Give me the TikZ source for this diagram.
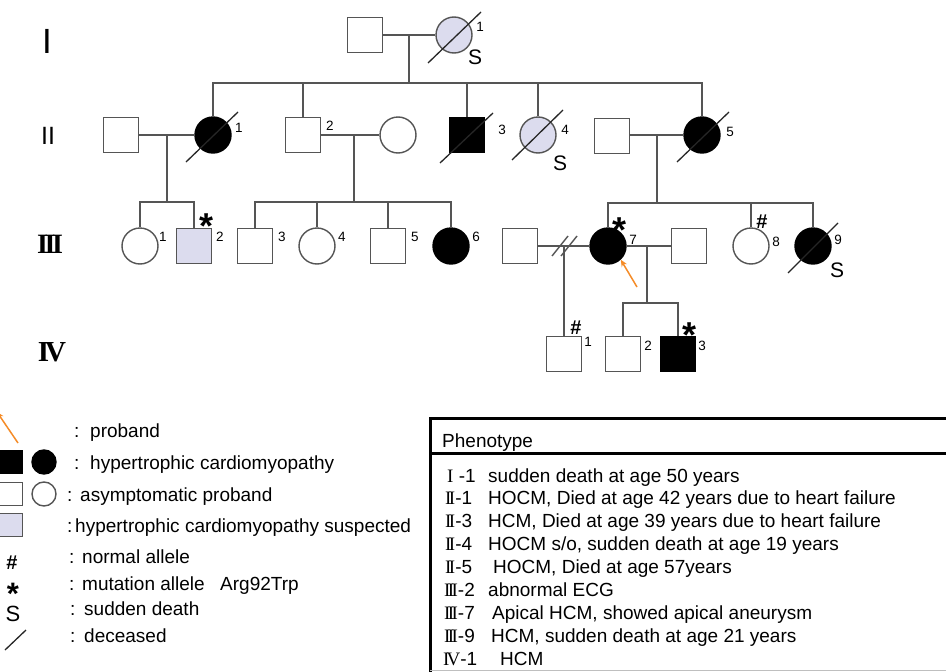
\documentclass[tikz,border=0pt]{standalone}
\usepackage{fontspec}
\setmainfont{Liberation Sans}
\newfontfamily\rmn{Liberation Serif}
\usetikzlibrary{arrows.meta,calc}
\definecolor{lc}{RGB}{85,85,85}
\definecolor{lav}{RGB}{220,220,238}
\definecolor{org}{RGB}{245,140,40}
\newcommand\astx{\raisebox{-0.575em}[0.16em][0.16em]{*}}
\newcommand\rI{{\rmn I}}
\newcommand\rII{{\rmn I\kern-2.6pt I}}
\newcommand\rIII{{\rmn I\kern-2.6pt I\kern-2.6pt I}}
\newcommand\rIV{{\rmn I\kern-3pt V}}
\tikzset{
  ln/.style={draw=lc, line width=1.4pt},
  pm/.style={rectangle, draw=lc, line width=1.4pt, minimum size=35pt, inner sep=0pt, fill=white},
  pf/.style={circle, draw=lc, line width=1.4pt, minimum size=36pt, inner sep=0pt, fill=white},
  aff/.style={fill=black, draw=black},
  sus/.style={fill=lav},
  slash/.style={draw=black!85, line width=1.3pt},
  num/.style={font=\fontsize{13.5}{14}\selectfont, inner sep=0pt},
  sdl/.style={font=\fontsize{21}{22}\selectfont, inner sep=0pt},
  ast/.style={font=\bfseries\fontsize{36}{36}\selectfont, inner sep=0pt},
  hsh/.style={font=\bfseries\fontsize{20}{20}\selectfont, inner sep=0pt},
  gen/.style={inner sep=0pt},
  txt/.style={font=\fontsize{19}{20}\selectfont, inner sep=0pt, anchor=base west},
  parr/.style={draw=org, line width=1.5pt, -{Stealth[length=7pt,width=6pt]}},
  lsq/.style={rectangle, draw=lc, line width=1.4pt, minimum size=23pt, inner sep=0pt},
  lci/.style={circle, draw=lc, line width=1.4pt, minimum size=24pt, inner sep=0pt},
  tline/.style={draw=black, line width=3pt}
}
\begin{document}
\begin{tikzpicture}[x=1pt,y=-1pt]
\useasboundingbox (0,0) rectangle (946,672);
\fill[white] (0,0) rectangle (946,672);

% ---------- generation labels ----------
\node[gen, font=\fontsize{35}{35}\selectfont] (gI) at (47,41) {I};
\node[gen, font=\fontsize{25}{25}\selectfont] (gII) at (48,136) {II};
\node[gen, font=\rmn\bfseries\fontsize{28}{28}\selectfont] (gIII) at (50,244) {I\kern-3.4pt I\kern-3.4pt I};
\node[gen, font=\rmn\bfseries\fontsize{29}{29}\selectfont] (gIV) at (52,352) {I\kern-4pt V};

% ---------- generation I ----------
\node[pm] (I0) at (365,35) {};
\node[pf, sus] (I1) at (454,35) {};

% ---------- generation II ----------
\node[pm] (IIa) at (121,135) {};
\node[pf, aff] (II1) at (213,135) {};
\node[pm] (II2) at (303,135) {};
\node[pf] (IIb) at (398,135) {};
\node[pm, aff] (II3) at (467,135) {};
\node[pf, sus] (II4) at (538,135) {};
\node[pm] (IIc) at (612,136) {};
\node[pf, aff] (II5) at (702,135) {};

% ---------- generation III ----------
\node[pf] (III1) at (140,246) {};
\node[pm, sus] (III2) at (194,246) {};
\node[pm] (III3) at (255,246) {};
\node[pf] (III4) at (317,246) {};
\node[pm] (III5) at (388,246) {};
\node[pf, aff] (III6) at (451,246) {};
\node[pm] (IIId) at (520,246) {};
\node[pf, aff] (III7) at (608,246) {};
\node[pm] (IIIe) at (689,246) {};
\node[pf] (III8) at (751,246) {};
\node[pf, aff] (III9) at (813,246) {};

% ---------- generation IV ----------
\node[pm] (IV1) at (564,354) {};
\node[pm] (IV2) at (623,354) {};
\node[pm, aff] (IV3) at (678,354) {};

% ---------- lines gen I ----------
\draw[ln] (I0.east) -- (I1.west);
\coordinate (mI) at (409,35);
\coordinate (sI) at (409,83);
\draw[ln] (mI) -- (sI);
\draw[ln] (II1.north) |- (sI) -| (II5.north);
\draw[ln] (II2.north) -- (II2.north |- sI);
\draw[ln] (II3.north) -- (II3.north |- sI);
\draw[ln] (II4.north) -- (II4.north |- sI);

% ---------- lines gen II ----------
\draw[ln] (IIa.east) -- (II1.west);
\coordinate (mIIa) at (167,135);
\coordinate (sIIa) at (167,202);
\draw[ln] (mIIa) -- (sIIa);
\draw[ln] (III1.north) |- (sIIa) -| (III2.north);

\draw[ln] (II2.east) -- (IIb.west);
\coordinate (mIIb) at (354,135);
\coordinate (sIIb) at (354,202);
\draw[ln] (mIIb) -- (sIIb);
\draw[ln] (III3.north) |- (sIIb) -| (III6.north);
\draw[ln] (III4.north) -- (III4.north |- sIIb);
\draw[ln] (III5.north) -- (III5.north |- sIIb);

\draw[ln] (IIc.east |- II5.west) -- (II5.west);
\coordinate (mIIc) at (657,135);
\coordinate (sIIc) at (657,203);
\draw[ln] (mIIc) -- (sIIc);
\draw[ln] (III7.north) |- (sIIc) -| (III9.north);
\draw[ln] (III8.north) -- (III8.north |- sIIc);

% ---------- lines gen III ----------
\draw[ln] (IIId.east) -- (III7.west);
\coordinate (mIIId) at (564,246);
\draw[ln] (mIIId) -- (IV1.north);
\coordinate (ds1a) at (552,256); \coordinate (ds1b) at (568,236);
\coordinate (ds2a) at (561,256); \coordinate (ds2b) at (577,236);
\draw[ln] (ds1a) -- (ds1b);
\draw[ln] (ds2a) -- (ds2b);

\draw[ln] (III7.east) -- (IIIe.west);
\coordinate (mIIIe) at (647,246);
\coordinate (sIIIe) at (647,303);
\draw[ln] (mIIIe) -- (sIIIe);
\draw[ln] (IV2.north) |- (sIIIe) -| (IV3.north);

% ---------- deceased slashes ----------
\draw[slash] ($(I1)+(-26,28)$) -- ($(I1)+(27,-23)$);
\draw[slash] ($(II1)+(-27,27)$) -- ($(II1)+(25,-23)$);
\draw[slash] ($(II3)+(-27,28)$) -- ($(II3)+(26,-22)$);
\draw[slash] ($(II4)+(-26,25)$) -- ($(II4)+(25,-25)$);
\draw[slash] ($(II5)+(-25,27)$) -- ($(II5)+(27,-23)$);
\draw[slash] ($(III9)+(-25,27)$) -- ($(III9)+(25,-23)$);

% ---------- proband arrow ----------
\coordinate (pa) at (637,287);
\draw[parr] (pa) -- (III7.-47);

% ---------- individual numbers ----------
\node[num] (nI1) at (480,27) {1};
\node[num] (nII1) at (239,128) {1};
\node[num] (nII2) at (330,126) {2};
\node[num] (nII3) at (502,130) {3};
\node[num] (nII4) at (565,130) {4};
\node[num] (nII5) at (730,132) {5};
\node[num] (nIII1) at (163,237) {1};
\node[num] (nIII2) at (220,237) {2};
\node[num] (nIII3) at (282,237) {3};
\node[num] (nIII4) at (342,237) {4};
\node[num] (nIII5) at (415,237) {5};
\node[num] (nIII6) at (476,237) {6};
\node[num] (nIII7) at (633,240) {7};
\node[num] (nIII8) at (776,242) {8};
\node[num] (nIII9) at (838,240) {9};
\node[num] (nIV1) at (588,342) {1};
\node[num] (nIV2) at (648,346) {2};
\node[num] (nIV3) at (702,346) {3};

% ---------- S, *, # ----------
\node[sdl] (sI1) at (475,57) {S};
\node[sdl] (sII4) at (560,163) {S};
\node[sdl] (sIII9) at (837,270) {S};
\node[ast] (aIII2) at (207,218) {\astx};
\node[ast] (aIII7) at (619,222) {\astx};
\node[ast] (aIV3) at (689,327) {\astx};
\node[hsh] (hIII8) at (762,222) {\#};
\node[hsh] (hIV1) at (576,328) {\#};

% ---------- legend ----------
\coordinate (la1) at (18,443);
\coordinate (la2) at (-3,412);
\draw[parr] (la1) -- (la2);
\node[lsq, fill=black, draw=black] (lq1) at (11,462) {};
\node[lci, fill=black, draw=black] (lc1) at (44,462) {};
\node[lsq, fill=white] (lq2) at (11,494) {};
\node[lci, fill=white] (lc2) at (44,494) {};
\node[lsq, fill=lav] (lq3) at (11,525) {};
\node[hsh] (lh) at (12,563) {\#};
\node[ast, font=\bfseries\fontsize{31}{31}\selectfont] (la) at (13,587) {\astx};
\node[sdl, font=\fontsize{22}{22}\selectfont] (ls) at (13,614) {S};
\coordinate (lsl1) at (5,650);
\coordinate (lsl2) at (26,630);
\draw[slash] (lsl1) -- (lsl2);

\node[txt] (c1) at (74,437) {:};
\node[txt] (t1) at (90,437) {proband};
\node[txt] (c2) at (74,469) {:};
\node[txt] (t2) at (90,469) {hypertrophic cardiomyopathy};
\node[txt] (c3) at (67,501) {:};
\node[txt] (t3) at (80,501) {asymptomatic proband};
\node[txt] (c4) at (67,532) {:};
\node[txt] (t4) at (75,532) {hypertrophic cardiomyopathy suspected};
\node[txt] (c5) at (69,563) {:};
\node[txt] (t5) at (82,563) {normal allele};
\node[txt] (c6) at (69,590) {:};
\node[txt] (t6) at (82,590) {mutation allele};
\node[txt] (t6b) at (220,590) {Arg92Trp};
\node[txt] (c7) at (70,615) {:};
\node[txt] (t7) at (84,615) {sudden death};
\node[txt] (c8) at (70,642) {:};
\node[txt] (t8) at (84,642) {deceased};

% ---------- phenotype table ----------
\coordinate (tb1) at (430,418);
\coordinate (tb2) at (946,418);
\coordinate (tb3) at (430,453);
\coordinate (tb4) at (946,453);
\coordinate (tb5) at (430,672);
\draw[tline] (tb2) -- (tb1) -- (tb5);
\draw[tline] (tb3) -- (tb4);
\coordinate (tb6) at (430,670);
\coordinate (tb7) at (946,670);
\draw[draw=black!25, line width=0.8pt] (tb6) -- (tb7);

\node[txt] (ph) at (442,447) {Phenotype};

\node[txt] (r1l) at (447,482) {\rI\ -1};
\node[txt] (r1t) at (488,482) {sudden death at age 50 years};
\node[txt] (r2l) at (445,504) {\rII-1};
\node[txt] (r2t) at (488,504) {HOCM, Died at age 42 years due to heart failure};
\node[txt] (r3l) at (445,527) {\rII-3};
\node[txt] (r3t) at (488,527) {HCM, Died at age 39 years due to heart failure};
\node[txt] (r4l) at (445,550) {\rII-4};
\node[txt] (r4t) at (488,550) {HOCM s/o, sudden death at age 19 years};
\node[txt] (r5l) at (445,573) {\rII-5};
\node[txt] (r5t) at (493,573) {HOCM, Died at age 57years};
\node[txt] (r6l) at (444,596) {\rIII-2};
\node[txt] (r6t) at (488,596) {abnormal ECG};
\node[txt] (r7l) at (444,619) {\rIII-7};
\node[txt] (r7t) at (492,619) {Apical HCM, showed apical aneurysm};
\node[txt] (r8l) at (444,642) {\rIII-9};
\node[txt] (r8t) at (491,642) {HCM, sudden death at age 21 years};
\node[txt] (r9l) at (443,665) {\rIV-1};
\node[txt] (r9t) at (500,665) {HCM};
\end{tikzpicture}
\end{document}
